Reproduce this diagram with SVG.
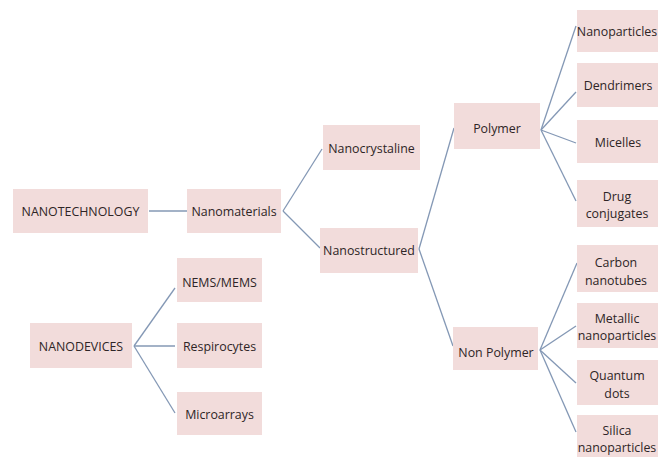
<svg xmlns="http://www.w3.org/2000/svg" width="658" height="457" viewBox="0 0 658 457">
<style>
.box{fill:#f2dcdb;}
.t{font-family:"Open Sans","Liberation Sans",sans-serif;font-size:12.4px;fill:#2e2526;text-anchor:middle;dominant-baseline:central;}
.c line{stroke:#8498b5;stroke-width:1.3;}
</style>
<rect width="658" height="457" fill="#ffffff"/>
<g class="c" id="connectors">
<line x1="149" y1="211" x2="187" y2="211"/>
<line x1="283" y1="211" x2="322" y2="149"/>
<line x1="283" y1="211" x2="320" y2="248"/>
<line x1="419" y1="249" x2="454" y2="128"/>
<line x1="419" y1="249" x2="453" y2="346"/>
<line x1="541" y1="130" x2="576" y2="26"/>
<line x1="541" y1="130" x2="576" y2="92"/>
<line x1="541" y1="130" x2="576" y2="143"/>
<line x1="541" y1="130" x2="576" y2="201"/>
<line x1="540" y1="350" x2="577" y2="263"/>
<line x1="540" y1="350" x2="576" y2="326"/>
<line x1="540" y1="350" x2="576" y2="383"/>
<line x1="540" y1="350" x2="576" y2="432"/>
<line x1="134" y1="346" x2="175" y2="288"/>
<line x1="134" y1="346" x2="175" y2="346"/>
<line x1="134" y1="346" x2="175" y2="413"/>
</g>
<g id="nanotechnology"><rect class="box" x="13" y="189" width="135" height="44"/><text class="t" x="80.5" y="211">NANOTECHNOLOGY</text></g>
<g id="nanomaterials"><rect class="box" x="187" y="189" width="94" height="44"/><text class="t" x="234" y="211">Nanomaterials</text></g>
<g id="nanocrystaline"><rect class="box" x="323" y="125" width="97" height="45"/><text class="t" x="371.5" y="148">Nanocrystaline</text></g>
<g id="nanostructured"><rect class="box" x="320" y="228" width="98" height="45"/><text class="t" x="369" y="250">Nanostructured</text></g>
<g id="polymer"><rect class="box" x="454" y="103" width="86" height="46"/><text class="t" x="497" y="128">Polymer</text></g>
<g id="nonpolymer"><rect class="box" x="453" y="327" width="85" height="43"/><text class="t" x="496" y="352">Non Polymer</text></g>
<g id="nanoparticles"><rect class="box" x="577" y="10" width="85" height="42"/><text class="t" x="617" y="31">Nanoparticles</text></g>
<g id="dendrimers"><rect class="box" x="577" y="63" width="85" height="44"/><text class="t" x="618" y="85">Dendrimers</text></g>
<g id="micelles"><rect class="box" x="577" y="120" width="85" height="43"/><text class="t" x="618" y="142">Micelles</text></g>
<g id="drugconjugates"><rect class="box" x="577" y="180" width="85" height="47"/><text class="t" x="617" y="196">Drug</text><text class="t" x="617" y="213">conjugates</text></g>
<g id="carbonnanotubes"><rect class="box" x="577" y="245" width="85" height="47"/><text class="t" x="616" y="262">Carbon</text><text class="t" x="616" y="280">nanotubes</text></g>
<g id="metallicnanoparticles"><rect class="box" x="577" y="303" width="85" height="45"/><text class="t" x="617" y="318">Metallic</text><text class="t" x="617" y="335">nanoparticles</text></g>
<g id="quantumdots"><rect class="box" x="577" y="360" width="85" height="45"/><text class="t" x="617" y="375">Quantum</text><text class="t" x="617" y="393">dots</text></g>
<g id="silicananoparticles"><rect class="box" x="577" y="415" width="85" height="45"/><text class="t" x="617" y="430">Silica</text><text class="t" x="617" y="447">nanoparticles</text></g>
<g id="nanodevices"><rect class="box" x="30" y="323" width="102" height="45"/><text class="t" x="81" y="346">NANODEVICES</text></g>
<g id="nemsmems"><rect class="box" x="177" y="258" width="85" height="44"/><text class="t" x="219.5" y="282">NEMS/MEMS</text></g>
<g id="respirocytes"><rect class="box" x="177" y="323" width="85" height="45"/><text class="t" x="219.5" y="346">Respirocytes</text></g>
<g id="microarrays"><rect class="box" x="177" y="392" width="85" height="43"/><text class="t" x="219.5" y="414">Microarrays</text></g>
</svg>
